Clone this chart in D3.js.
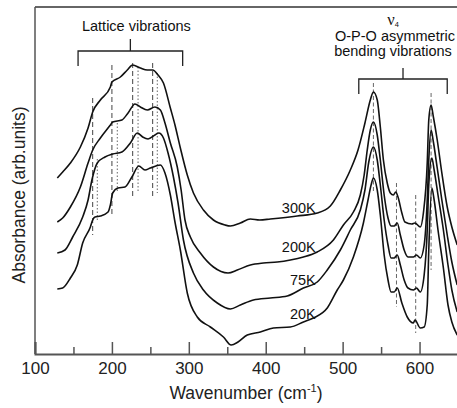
<!DOCTYPE html>
<html>
<head>
<meta charset="utf-8">
<script src="https://cdn.jsdelivr.net/npm/d3@7"></script>
<style>
  body { margin: 0; background: #fff; }
  svg { display: block; font-family: "Liberation Sans", Arial, sans-serif; }
</style>
</head>
<body>
<div id="chart"></div>
<script>
// spectra: [wavenumber (cm-1), absorbance (arb. units)]
const spectrum300K = [
    [129, 1.76], [136, 1.82], [146, 1.91], [159, 2.07], [169, 2.26], [175, 2.42], [185, 2.54],
    [198, 2.67], [200, 2.72], [211, 2.77], [220, 2.84], [227, 2.89], [237, 2.86], [246, 2.84],
    [253, 2.84], [260, 2.79], [267, 2.71], [276, 2.46], [282, 2.29], [289, 2.06], [298, 1.79],
    [306, 1.61], [319, 1.44], [332, 1.34], [347, 1.29], [354, 1.28], [367, 1.31], [380, 1.35],
    [392, 1.34], [406, 1.35], [441, 1.38], [467, 1.41], [484, 1.48], [497, 1.64], [510, 1.84],
    [520, 2.04], [529, 2.31], [536, 2.54], [540, 2.62], [545, 2.54], [549, 2.27], [553, 1.94],
    [558, 1.71], [562, 1.61], [566, 1.59], [569, 1.62], [572, 1.57], [577, 1.41], [581, 1.32],
    [590, 1.30], [594, 1.31], [601, 1.27], [605, 1.41], [610, 1.91], [612, 2.34], [615, 2.49],
    [618, 2.37], [623, 2.14], [629, 1.81], [636, 1.47], [642, 1.27], [649, 1.09]
];
const spectrum200K = [
    [129, 1.32], [136, 1.36], [146, 1.47], [159, 1.67], [169, 1.91], [175, 2.04], [185, 2.16],
    [198, 2.29], [201, 2.32], [213, 2.34], [221, 2.41], [230, 2.50], [237, 2.47], [246, 2.44],
    [256, 2.47], [263, 2.44], [269, 2.31], [276, 2.11], [285, 1.87], [290, 1.64], [295, 1.34],
    [302, 1.17], [315, 1.01], [332, 0.87], [351, 0.81], [363, 0.84], [380, 0.89], [397, 0.91],
    [415, 0.92], [432, 0.94], [449, 0.97], [467, 1.02], [488, 1.14], [501, 1.29], [514, 1.42],
    [523, 1.59], [528, 1.79], [532, 2.04], [536, 2.24], [540, 2.32], [545, 2.19], [549, 1.94],
    [554, 1.59], [559, 1.36], [563, 1.28], [567, 1.28], [571, 1.31], [575, 1.19], [580, 1.04],
    [585, 0.97], [592, 0.97], [596, 0.99], [601, 0.96], [606, 1.09], [610, 1.54], [612, 1.94],
    [615, 2.24], [618, 2.12], [623, 1.86], [629, 1.54], [636, 1.19], [642, 0.92], [649, 0.69]
];
const spectrum75K = [
    [129, 1.01], [139, 1.04], [149, 1.17], [162, 1.37], [169, 1.54], [174, 1.74], [181, 1.91],
    [191, 1.97], [201, 2.00], [213, 2.02], [224, 2.11], [233, 2.21], [240, 2.17], [247, 2.15],
    [256, 2.19], [261, 2.21], [267, 2.16], [273, 2.01], [280, 1.77], [286, 1.51], [293, 1.14],
    [306, 0.81], [319, 0.64], [337, 0.51], [354, 0.45], [367, 0.49], [384, 0.54], [406, 0.56],
    [428, 0.58], [449, 0.66], [467, 0.72], [480, 0.84], [497, 1.04], [510, 1.24], [523, 1.44],
    [529, 1.64], [534, 1.92], [540, 2.07], [545, 1.94], [549, 1.69], [554, 1.34], [559, 1.09],
    [563, 0.96], [567, 0.96], [571, 0.99], [575, 0.89], [580, 0.74], [585, 0.66], [592, 0.64],
    [596, 0.66], [601, 0.62], [606, 0.79], [610, 1.24], [612, 1.69], [616, 1.96], [619, 1.84],
    [624, 1.59], [631, 1.24], [637, 0.89], [642, 0.64], [649, 0.42]
];
const spectrum20K = [
    [129, 0.65], [136, 0.66], [146, 0.76], [155, 0.89], [162, 1.11], [172, 1.27], [175, 1.34],
    [178, 1.37], [185, 1.38], [195, 1.42], [198, 1.49], [201, 1.61], [208, 1.66], [217, 1.67],
    [226, 1.77], [235, 1.88], [243, 1.84], [250, 1.86], [263, 1.89], [269, 1.81], [276, 1.59],
    [282, 1.32], [289, 1.04], [298, 0.61], [311, 0.37], [328, 0.27], [345, 0.17], [355, 0.09],
    [364, 0.12], [376, 0.19], [393, 0.22], [410, 0.26], [432, 0.27], [449, 0.32], [462, 0.36],
    [480, 0.46], [493, 0.64], [501, 0.74], [514, 0.97], [527, 1.31], [533, 1.54], [537, 1.69],
    [540, 1.76], [545, 1.64], [549, 1.39], [554, 0.99], [559, 0.74], [563, 0.62], [567, 0.62],
    [571, 0.66], [577, 0.51], [584, 0.37], [592, 0.31], [594, 0.34], [601, 0.26], [606, 0.27],
    [610, 0.49], [612, 1.04], [616, 1.66], [619, 1.54], [624, 1.24], [631, 0.86], [637, 0.49],
    [642, 0.32], [649, 0.19]
];

const temperatures = ["300K", "200K", "75K", "20K"];
const spectra = [spectrum300K, spectrum200K, spectrum75K, spectrum20K];

// mode markers: [wavenumber, absorbance top, absorbance bottom]
const latticeDashed = [[175, 2.56, 1.19], [200, 2.89, 1.38], [227, 2.91, 1.57], [253, 2.91, 1.57]];
const latticeDotted = [[181, 1.95, 1.32], [207, 2.31, 1.61], [234, 2.87, 1.61], [259, 2.81, 1.61]];
const phosphateDashed = [[540, 2.71, 1.61], [570, 1.71, 0.47], [595, 1.59, 0.21], [615, 2.61, 0.84]];

const majorTicks = [100, 200, 300, 400, 500, 600];
const minorTicks = [150, 250, 350, 450, 550, 650];

const margin = { top: 7, right: 0, bottom: 54, left: 35 };
const width = 423;
const height = 347;

const svg = d3.select("#chart")
    .append("svg")
    .attr("width", 457)
    .attr("height", 408);

const g = svg.append("g")
    .attr("transform", `translate(${margin.left},${margin.top})`);

const x = d3.scaleLinear().domain([100, 650]).range([0, width]);
const y = d3.scaleLinear().domain([0, 3.47]).range([height, 0]);

// frame: top line and left axis
g.append("line")
    .attr("x1", 0).attr("x2", width)
    .attr("y1", 0).attr("y2", 0)
    .attr("stroke", "#333").attr("stroke-width", 1.5);
g.append("line")
    .attr("x1", 0).attr("x2", 0)
    .attr("y1", 0).attr("y2", height)
    .attr("stroke", "#555").attr("stroke-width", 1.5);

// X axis (ticks pointing inward)
const xAxis = g.append("g")
    .attr("transform", `translate(0,${height})`)
    .call(d3.axisBottom(x).tickValues(majorTicks).tickSize(-12).tickPadding(8).tickFormat(d3.format("d")));
xAxis.select(".domain").attr("stroke", "#555").attr("stroke-width", 2);
xAxis.selectAll(".tick line").attr("stroke", "#555").attr("stroke-width", 1.5);
xAxis.selectAll("text")
    .attr("y", 8)
    .style("font-size", "17px")
    .style("fill", "#222")
    .style("font-family", "'Liberation Sans', Arial, sans-serif");

g.append("g")
    .attr("transform", `translate(0,${height})`)
    .call(d3.axisBottom(x).tickValues(minorTicks).tickSize(-7).tickFormat(""))
    .call(a => a.select(".domain").remove())
    .selectAll(".tick line").attr("stroke", "#555").attr("stroke-width", 1.5);

// axis titles
const xTitle = svg.append("text")
    .attr("x", 246)
    .attr("y", 399)
    .attr("text-anchor", "middle")
    .style("font-size", "17.5px")
    .style("fill", "#222");
xTitle.append("tspan").text("Wavenumber (cm");
xTitle.append("tspan").attr("dy", -7).style("font-size", "11px").text("-1");
xTitle.append("tspan").attr("dy", 7).text(")");

svg.append("text")
    .attr("transform", "translate(25,195) rotate(-90)")
    .attr("text-anchor", "middle")
    .style("font-size", "17.5px")
    .style("fill", "#222")
    .text("Absorbance (arb.units)");

// mode markers
function markers(data, dash, color) {
    g.append("g")
        .selectAll("line")
        .data(data)
        .enter()
        .append("line")
        .attr("x1", d => x(d[0]))
        .attr("x2", d => x(d[0]))
        .attr("y1", d => y(d[1]))
        .attr("y2", d => y(d[2]))
        .attr("stroke", color)
        .attr("stroke-width", 1)
        .attr("stroke-dasharray", dash);
}
markers(latticeDashed, "5,3", "#444");
markers(latticeDotted, "1.5,2", "#666");
markers(phosphateDashed, "4,2.5", "#666");

// spectra
const line = d3.line()
    .x(d => x(d[0]))
    .y(d => y(d[1]))
    .curve(d3.curveMonotoneX);

g.selectAll(".spectrum")
    .data(spectra)
    .enter()
    .append("path")
    .attr("class", "spectrum")
    .attr("fill", "none")
    .attr("stroke", "#111")
    .attr("stroke-width", 1.6)
    .attr("d", line);

// temperature labels
const labelBaselines = [213, 252, 285, 319];
svg.selectAll(".temp")
    .data(temperatures)
    .enter()
    .append("text")
    .attr("class", "temp")
    .attr("x", margin.left + x(465))
    .attr("y", (d, i) => labelBaselines[i])
    .attr("text-anchor", "end")
    .style("font-size", "14.5px")
    .style("fill", "#111")
    .text(d => d);

// brackets
function bracket(x0, x1, aBar, aLeg, aTick) {
    const xm = (x(x0) + x(x1)) / 2;
    g.append("path")
        .attr("d", `M${x(x0)},${y(aLeg)}V${y(aBar)}H${x(x1)}V${y(aLeg)}M${xm},${y(aBar)}V${y(aTick)}`)
        .attr("fill", "none")
        .attr("stroke", "#222")
        .attr("stroke-width", 1.3);
    return xm + margin.left;
}
const latticeMid = bracket(156, 292, 3.03, 2.88, 3.15);
const phosphateMid = bracket(521, 636, 2.75, 2.60, 2.86);

svg.append("text")
    .attr("x", latticeMid + 6)
    .attr("y", 31)
    .attr("text-anchor", "middle")
    .style("font-size", "14.5px")
    .style("fill", "#111")
    .text("Lattice vibrations");

const nu = svg.append("text")
    .attr("x", 393)
    .attr("y", 25)
    .attr("text-anchor", "middle")
    .style("fill", "#111");
nu.append("tspan").style("font-family", "'Liberation Serif', serif").style("font-size", "16.5px").text("ν");
nu.append("tspan").attr("dy", 2).style("font-size", "7.5px").text("4");

svg.append("text")
    .attr("x", 395)
    .attr("y", 41)
    .attr("text-anchor", "middle")
    .style("font-size", "14.5px")
    .style("fill", "#111")
    .text("O-P-O asymmetric");

svg.append("text")
    .attr("x", 393)
    .attr("y", 56)
    .attr("text-anchor", "middle")
    .style("font-size", "14.5px")
    .style("fill", "#111")
    .text("bending vibrations");
</script>
</body>
</html>
